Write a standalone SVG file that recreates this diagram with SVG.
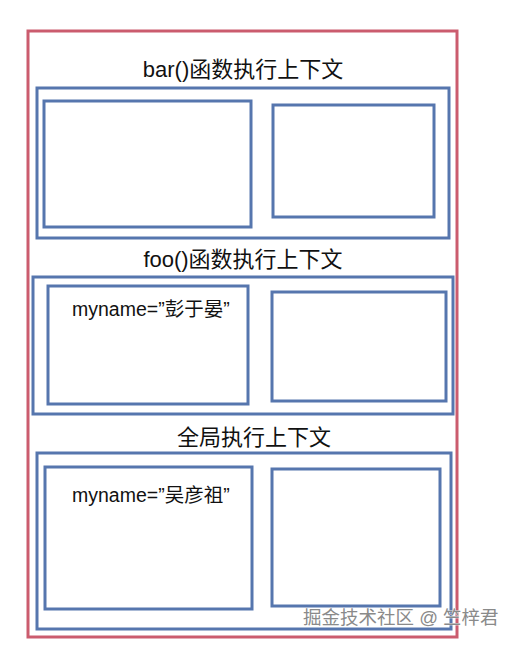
<svg xmlns="http://www.w3.org/2000/svg" width="521" height="646" viewBox="0 0 521 646">
<style>
.outer{fill:none;stroke:#CB5C6E;stroke-width:3}
.box{fill:none;stroke:#5676AE;stroke-width:3}
.title{font-family:"Liberation Sans","Noto Sans CJK SC",sans-serif;font-size:22px;fill:#111;text-anchor:middle}
.var{font-family:"Liberation Sans","Noto Sans CJK SC",sans-serif;font-size:19.5px;fill:#111}
.wm{font-family:"Liberation Sans","Noto Sans CJK SC",sans-serif;font-size:18.5px;fill:#8a8a8a;stroke:#ffffff;stroke-width:0.6;paint-order:stroke}
</style>
<rect width="521" height="646" fill="#ffffff"/>
<g id="stack"><rect class="outer" x="28" y="31" width="429" height="606"/></g>
<g id="bar-context">
<text class="title" x="243" y="77">bar()函数执行上下文</text>
<rect class="box" x="37" y="88" width="412" height="150"/>
<rect class="box" x="44" y="101" width="207" height="126"/>
<rect class="box" x="273" y="105" width="161" height="112"/>
</g>
<g id="foo-context">
<text class="title" x="243" y="267">foo()函数执行上下文</text>
<rect class="box" x="33" y="277" width="420" height="137"/>
<rect class="box" x="48" y="286" width="200" height="118"/>
<rect class="box" x="272" y="292" width="174" height="109"/>
<text class="var" x="72" y="316">myname=”彭于晏”</text>
</g>
<g id="global-context">
<text class="title" x="254" y="445">全局执行上下文</text>
<rect class="box" x="37" y="453" width="414" height="176"/>
<rect class="box" x="45" y="467" width="207" height="142"/>
<rect class="box" x="272" y="469" width="168" height="137"/>
<text class="var" x="72" y="502">myname=”吴彦祖”</text>
</g>
<g id="connectors"></g>
<text class="wm" x="303" y="624">掘金技术社区 @ 竺梓君</text>
</svg>
